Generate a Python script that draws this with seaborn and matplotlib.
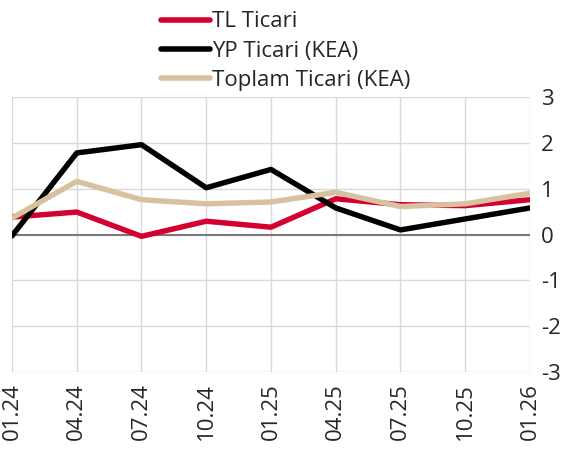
import pandas as pd
import matplotlib.pyplot as plt
import seaborn as sns

dates = ["01.24", "04.24", "07.24", "10.24", "01.25", "04.25", "07.25", "10.25", "01.26"]
tl_ticari = [0.38, 0.49, -0.04, 0.29, 0.16, 0.78, 0.65, 0.63, 0.76]
yp_ticari = [-0.03, 1.78, 1.96, 1.02, 1.42, 0.58, 0.10, 0.34, 0.58]
toplam_ticari = [0.36, 1.16, 0.76, 0.67, 0.71, 0.92, 0.61, 0.67, 0.90]

series = {
    "TL Ticari": tl_ticari,
    "YP Ticari (KEA)": yp_ticari,
    "Toplam Ticari (KEA)": toplam_ticari,
}
colors = {"TL Ticari": "#D50032", "YP Ticari (KEA)": "#000000", "Toplam Ticari (KEA)": "#D7C19E"}

df = pd.concat(
    [pd.DataFrame({"x": range(len(dates)), "value": v, "series": k}) for k, v in series.items()]
)

sns.set_style("white")
plt.rcParams["font.family"] = ["Open Sans", "DejaVu Sans"]

fig = plt.figure(figsize=(5.77, 4.54), dpi=100)
ax = fig.add_axes([0.0208, 0.1806, 0.8977, 0.6057])

ax.axhline(0, color="#7a7a7a", lw=1.5, zorder=1)
sns.lineplot(data=df, x="x", y="value", hue="series", palette=colors,
             linewidth=3.9, ax=ax, legend=True, zorder=3)

ax.set_xlim(0, len(dates) - 1)
ax.set_ylim(-3, 3)
ax.set_xticks(range(len(dates)))
ax.set_xticklabels(dates, rotation=90, fontsize=16)
ax.set_yticks(range(-3, 4))
ax.set_yticklabels([str(t) for t in range(-3, 4)], fontsize=16)
ax.yaxis.tick_right()
ax.tick_params(length=0, pad=8)
ax.grid(True, color="#d9d9d9", lw=1)
for s in ax.spines.values():
    s.set_visible(False)
ax.set_xlabel("")
ax.set_ylabel("")

handles, labels = ax.get_legend_handles_labels()
ax.legend(handles, labels, loc="lower center", bbox_to_anchor=(0.529, 1.0),
          frameon=False, fontsize=16, handlelength=2.2, handletextpad=0.1,
          labelspacing=0.37, borderaxespad=-0.12)
for line in ax.get_legend().get_lines():
    line.set_linewidth(4)
    line.set_solid_capstyle("round")

fig.savefig("out.png", dpi=100)
